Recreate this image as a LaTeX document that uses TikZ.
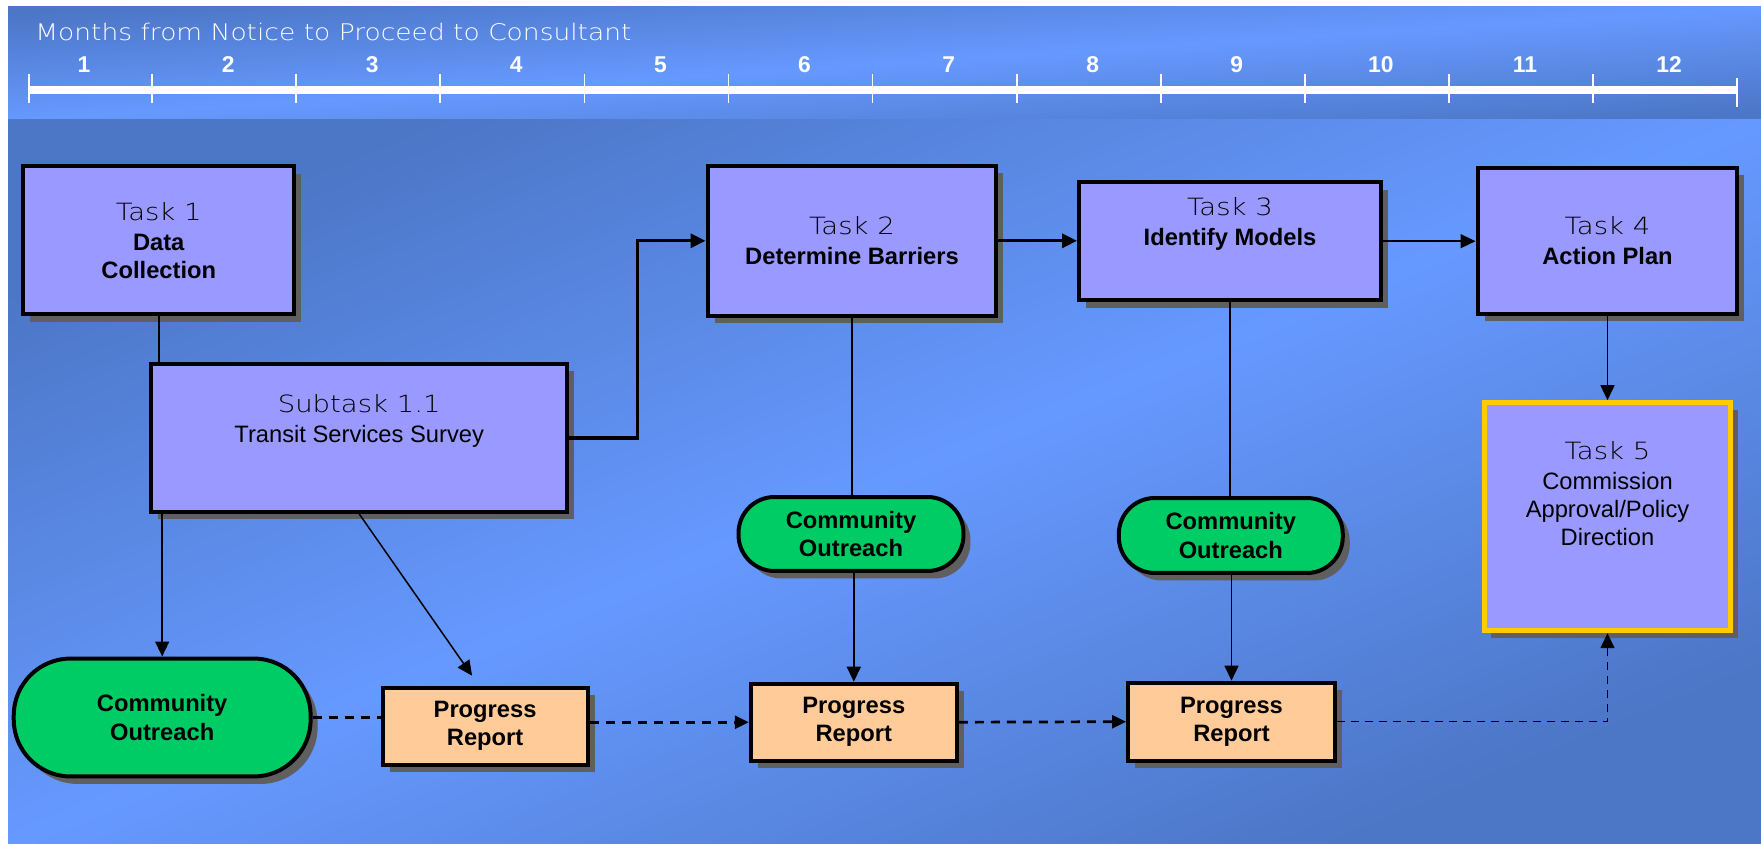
\documentclass[tikz,border=0pt]{standalone}
\usepackage{fontspec}
\setmainfont{Liberation Sans}
\newfontfamily\taskfont{DejaVu Sans ExtraLight}[FakeStretch=1.16, Scale=1.0]
\usepackage{tikz}
\usetikzlibrary{arrows.meta, positioning, shadows, calc}
\usepackage{xcolor}
\definecolor{taskfill}{HTML}{9999FF}
\definecolor{reportfill}{HTML}{FFCC99}
\definecolor{outreachgreen}{HTML}{00CC66}
\definecolor{gold}{HTML}{FFCC00}
\definecolor{shadowgray}{HTML}{5F5F5F}
\definecolor{bgdark}{HTML}{4C76C6}
\definecolor{bglight}{HTML}{6699FF}
\newcommand{\tasktitle}[1]{{\taskfont #1}\\[1pt]}
\newcommand{\lift}[1]{\\[#1]\mbox{}}
\tikzset{
  shadowed/.style={drop shadow={shadow xshift=0.14cm, shadow yshift=-0.15cm,
                   fill=shadowgray, opacity=1}},
  backdrop/.style={top color=bgdark, bottom color=bgdark,
                   middle color=bglight, shading angle=#1},
  taskbox/.style={rectangle, draw=black, line width=0.08cm, fill=taskfill,
                  align=center, inner sep=0pt,
                  font=\fontsize{13.5}{16}\selectfont, shadowed},
  approvalbox/.style={taskbox, draw=gold, line width=0.1cm},
  outreach/.style={rectangle, rounded corners=0.72cm, draw=black,
                   line width=0.08cm, fill=outreachgreen, align=center,
                   inner sep=0pt, font=\fontsize{13.5}{16}\selectfont\bfseries,
                   shadowed},
  report/.style={rectangle, draw=black, line width=0.08cm, fill=reportfill,
                 align=center, inner sep=0pt,
                 font=\fontsize{13.5}{16}\selectfont\bfseries, shadowed},
  link/.style={line width=0.03cm},
  arrow/.style={link, -{Triangle[length=0.3cm, width=0.28cm]}},
  thickarrow/.style={arrow, line width=0.066cm},
  dashlink/.style={line width=0.054cm, dash pattern=on 0.18cm off 0.14cm},
  dasharrow/.style={dashlink, -{Triangle[length=0.28cm, width=0.26cm]}},
  thindash/.style={arrow, dash pattern=on 0.16cm off 0.12cm},
  monthnum/.style={text=white, inner sep=0pt,
                   font=\fontsize{13}{15}\selectfont\bfseries},
}

\begin{document}
\begin{tikzpicture}[x=0.02cm, y=-0.02cm]
  %% Background
  \fill[white] (0,0) rectangle (1761,844);
  \shade[backdrop=3.7] (8,7) rectangle (1761,120);
  \shade[backdrop=22.4] (8,120) rectangle (1761,844);
  \useasboundingbox (0,0) rectangle (1761,844);

  %% Timeline
  \node[anchor=west, text=white, inner sep=0pt,
        font=\taskfont\fontsize{13}{16}\selectfont] (title) at (35,32)
    {Months from Notice to Proceed to Consultant};
  \draw[white, line width=0.16cm] (28.7,90) -- (1737,90);
  \draw[white, line width=0.035cm] (28.7,74) -- (28.7,103);
  \foreach \k in {0,...,10}{
    \draw[white, line width=0.035cm] ({152.1+144.1*\k},74) -- ++(0,29);
  }
  \draw[white, line width=0.04cm] (1737,77.7) -- (1737,106.7);
  \foreach \m in {1,...,12}{
    \node[monthnum] (m\m) at ({84+144.1*(\m-1)},65) {\m};
  }

  %% Tasks
  \node[taskbox, minimum width=5.42cm, minimum height=2.96cm] (task1)
    at (158.8,240.4) {\tasktitle{Task 1}\textbf{Data}\\\textbf{Collection}};
  \node[taskbox, minimum width=8.32cm, minimum height=2.96cm] (sub11)
    at (359.2,437.9) {\tasktitle{Subtask 1.1}Transit Services Survey\lift{6pt}};
  \node[taskbox, minimum width=5.78cm, minimum height=3cm] (task2)
    at (852,240.8) {\tasktitle{Task 2}\textbf{Determine Barriers}};
  \node[taskbox, minimum width=6.04cm, minimum height=2.36cm] (task3)
    at (1230,241.2) {\tasktitle{Task 3}\textbf{Identify Models}\lift{6pt}};
  \node[taskbox, minimum width=5.2cm, minimum height=2.92cm] (task4)
    at (1607.5,240.7) {\tasktitle{Task 4}\textbf{Action Plan}};
  \node[approvalbox, minimum width=4.94cm, minimum height=4.56cm] (task5)
    at (1607.5,516.7)
    {\tasktitle{Task 5}Commission\\Approval/Policy\\Direction\lift{10pt}};

  %% Outreach and reports
  \node[outreach, rounded corners=1.14cm, minimum width=5.94cm,
        minimum height=2.36cm] (co1) at (162.2,717.5) {Community\\Outreach};
  \node[outreach, minimum width=4.5cm, minimum height=1.48cm] (co2)
    at (851,534) {Community\\Outreach};
  \node[outreach, minimum width=4.48cm, minimum height=1.5cm] (co3)
    at (1230.8,535.5) {Community\\Outreach};
  \node[report, minimum width=4.1cm, minimum height=1.54cm] (pr1)
    at (485.1,726.2) {Progress\\Report};
  \node[report, minimum width=4.12cm, minimum height=1.54cm] (pr2)
    at (853.8,722.2) {Progress\\Report};
  \node[report, minimum width=4.14cm, minimum height=1.56cm] (pr3)
    at (1231.5,721.7) {Progress\\Report};

  %% Connectors
  \coordinate (bend) at ($(sub11.east)!0.5!(task2.west)$);
  \draw[link] (task1.south) -- (task1.south |- sub11.north);
  \draw[arrow] (co1.north |- sub11.south) -- (co1.north);
  \draw[arrow] (sub11.south) -- ([xshift=-0.26cm, yshift=0.2cm]pr1.north);
  \draw[thickarrow] (sub11.east) -| (bend) |- (task2.west);
  \draw[thickarrow] (task2.east) -- (task2.east -| task3.west);
  \draw[arrow] (task3.east) -- (task3.east -| task4.west);
  \draw[link] (task2.south) -- (task2.south |- co2.north);
  \draw[arrow] (pr2.north |- co2.south) -- (pr2.north);
  \draw[link] (task3.south) -- (task3.south |- co3.north);
  \draw[arrow] (pr3.north |- co3.south) -- (pr3.north);
  \draw[arrow] (task4.south) -- (task5.north);
  \draw[dashlink] (co1.east) -- (co1.east -| pr1.west);
  \draw[dasharrow] (pr2.west -| pr1.east) -- (pr2.west);
  \draw[dasharrow] (pr2.east) -- (pr3.west);
  \draw[thindash] (pr3.east) -| (task5.south);

\end{tikzpicture}
\end{document}
